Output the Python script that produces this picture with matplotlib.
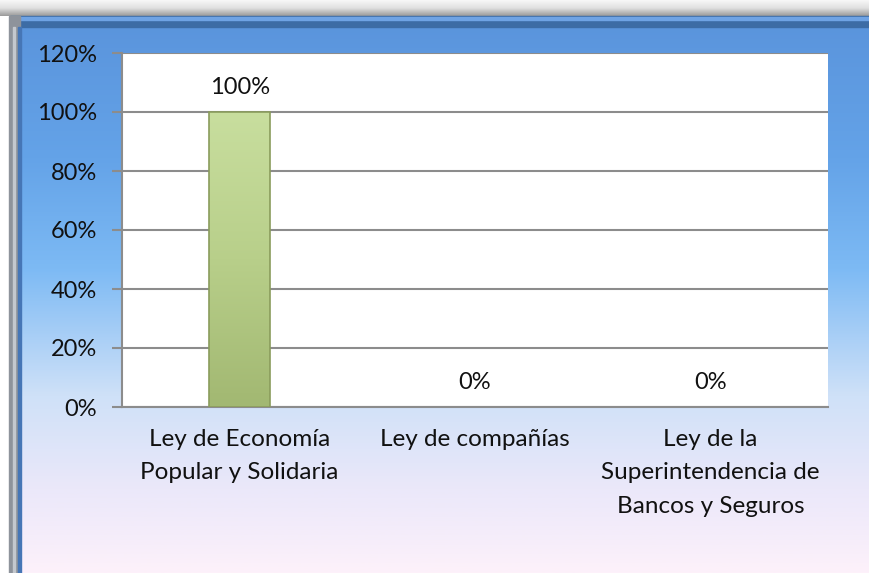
import numpy as np
import matplotlib.pyplot as plt
from matplotlib.colors import LinearSegmentedColormap
from matplotlib.patches import Rectangle

# DATA
categories = ['Ley de Economía\nPopular y Solidaria',
              'Ley de compañías',
              'Ley de la\nSuperintendencia de\nBancos y Seguros']
values = [1.0, 0.0, 0.0]
yticks = [0, 0.2, 0.4, 0.6, 0.8, 1.0, 1.2]
ytick_labels = ['0%', '20%', '40%', '60%', '80%', '100%', '120%']
value_labels = ['100%', '0%', '0%']

plt.rcParams['font.family'] = ['Lato', 'DejaVu Sans']

fig = plt.figure(figsize=(8.7, 5.73), dpi=100)
W, H = 870, 573

# background gradient (blue at top to pale pink at bottom)
bg = fig.add_axes([14 / W, 0, 1 - 14 / W, 1 - 20 / H], zorder=0)
bg_cmap = LinearSegmentedColormap.from_list('bg', [
    (0.0, '#5a94dc'), (0.25, '#64a3e8'), (0.45, '#7dbaf4'),
    (0.68, '#cfe1f8'), (0.85, '#ebe8fa'), (1.0, '#fdf1fa')])
bg.imshow(np.linspace(0, 1, 256).reshape(-1, 1), aspect='auto', cmap=bg_cmap,
          extent=[0, 1, 0, 1])
bg.set_axis_off()

# frame: top shadow, dark blue edge, left gray edge
shade = fig.add_axes([0, 1 - 16 / H, 1, 16 / H], zorder=1)
shade.imshow(np.linspace(0, 1, 64).reshape(-1, 1), aspect='auto',
             cmap=LinearSegmentedColormap.from_list('sh', ['#f8f8f8', '#e0e0e0', '#9a9a9a']),
             extent=[0, 1, 0, 1])
shade.set_axis_off()
fig.patches.append(Rectangle((10 / W, 1 - 27 / H), 1, 11 / H, transform=fig.transFigure,
                             color='#3d6ca5', zorder=2))
fig.patches.append(Rectangle((10 / W, 1 - 20 / H), 1, 3 / H, transform=fig.transFigure,
                             color='#6fa3e4', zorder=2))
fig.patches.append(Rectangle((9 / W, 0), 11 / W, 1 - 16 / H, transform=fig.transFigure,
                             color='#8e939b', zorder=2))
fig.patches.append(Rectangle((13 / W, 0), 2 / W, 1 - 27 / H, transform=fig.transFigure,
                             color='#c4c8ce', zorder=2))
fig.patches.append(Rectangle((18 / W, 0), 3 / W, 1 - 27 / H, transform=fig.transFigure,
                             color='#4676b6', zorder=2))

# plot area
ax = fig.add_axes([122 / W, 1 - 407 / H, 706 / W, 354 / H], zorder=3)
ax.set_facecolor('white')
x = np.arange(len(categories))
ax.set_xlim(-0.5, len(categories) - 0.5)
ax.set_ylim(0, 1.2)

bars = ax.bar(x, values, width=0.258, color='#b9d28c', linewidth=0, zorder=3)
# soft gradient inside the bar
bar_cmap = LinearSegmentedColormap.from_list('bar', ['#c8de9e', '#b8cf8a', '#a2b872'])
for b in bars:
    if b.get_height() > 0:
        x0, w, h = b.get_x(), b.get_width(), b.get_height()
        im = ax.imshow(np.linspace(0, 1, 128).reshape(-1, 1), aspect='auto',
                       cmap=bar_cmap, extent=[x0, x0 + w, 0, h], zorder=3.5)
        im.set_clip_path(b)
        ax.add_patch(Rectangle((x0, 0), w, h, fill=False, edgecolor='#8a9c5c',
                               linewidth=1.2, zorder=4))

for xi, v, lab in zip(x, values, value_labels):
    ax.annotate(lab, (xi, v), xytext=(0, 10), textcoords='offset points',
                ha='center', va='bottom', fontsize=17, color='#111111')

ax.set_yticks(yticks)
ax.set_yticklabels(ytick_labels, fontsize=17, color='#111111')
ax.set_xticks(x)
ax.set_xticklabels(categories, fontsize=17.5, color='#111111', linespacing=1.72)
ax.tick_params(axis='x', length=0, pad=16)
ax.tick_params(axis='y', length=7, width=1.5, color='#8c8c8c', pad=11)
ax.yaxis.grid(True, color='#8c8c8c', linewidth=1.5, zorder=0)
ax.set_axisbelow(True)
for s in ['top', 'right']:
    ax.spines[s].set_visible(False)
for s in ['left', 'bottom']:
    ax.spines[s].set_color('#8c8c8c')
    ax.spines[s].set_linewidth(1.5)

fig.savefig('out.png', dpi=100)
